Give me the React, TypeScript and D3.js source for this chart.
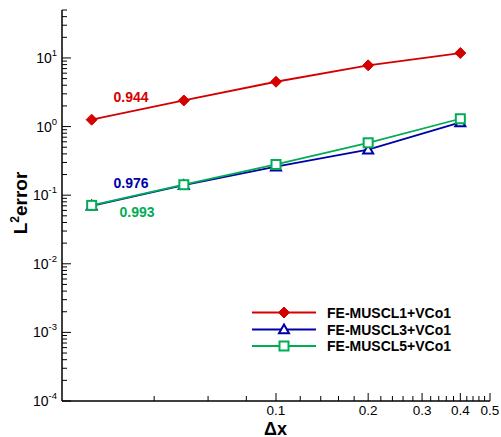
import React from "react";
import * as d3 from "d3";

const dx = [0.025, 0.05, 0.1, 0.2, 0.4];
const errMuscl1 = [1.26, 2.4, 4.5, 7.8, 11.8];
const errMuscl3 = [0.07, 0.14, 0.26, 0.46, 1.15];
const errMuscl5 = [0.071, 0.142, 0.28, 0.58, 1.3];
const seriesNames = ["FE-MUSCL1+VCo1", "FE-MUSCL3+VCo1", "FE-MUSCL5+VCo1"];
const rateLabels = ["0.944", "0.976", "0.993"];
const xTickLabels = [0.1, 0.2, 0.3, 0.4, 0.5];
const yExponents = [-4, -3, -2, -1, 0, 1];

const RED = "#d40000";
const BLUE = "#0000a8";
const GREEN = "#00ad55";
const FONT = "'Liberation Sans', Arial, Helvetica, sans-serif";

export default function App() {
  const x = d3.scaleLog().domain([0.02, 0.5]).range([62, 490]);
  const y = d3.scaleLog().domain([1e-4, 50]).range([401, 10]);
  const line = d3
    .line<[number, number]>()
    .x((d) => x(d[0]))
    .y((d) => y(d[1]));

  const xMinor: number[] = [];
  for (let i = 2; i <= 25; i++) {
    const v = +(i * 0.02).toFixed(2);
    if (!xTickLabels.some((t) => Math.abs(t - v) < 1e-9)) xMinor.push(v);
  }
  const yMinor: number[] = [];
  yExponents.forEach((e) => {
    for (let k = 2; k <= 9; k++) {
      const v = k * Math.pow(10, e);
      if (v <= 50) yMinor.push(v);
    }
  });

  const series = [
    { name: seriesNames[0], data: errMuscl1, color: RED, marker: "diamond" },
    { name: seriesNames[1], data: errMuscl3, color: BLUE, marker: "triangle" },
    { name: seriesNames[2], data: errMuscl5, color: GREEN, marker: "square" },
  ];

  const marker = (type: string, cx: number, cy: number, color: string, key: string) => {
    if (type === "diamond") {
      const r = 5.5;
      return (
        <path
          key={key}
          d={`M${cx},${cy - r}L${cx + r},${cy}L${cx},${cy + r}L${cx - r},${cy}Z`}
          fill={color}
          stroke={color}
          strokeWidth={1}
        />
      );
    }
    if (type === "triangle") {
      const r = 5;
      return (
        <path
          key={key}
          d={`M${cx},${cy - r}L${cx + r},${cy + r * 0.75}L${cx - r},${cy + r * 0.75}Z`}
          fill="white"
          stroke={color}
          strokeWidth={2}
        />
      );
    }
    const s = 4.5;
    return (
      <rect
        key={key}
        x={cx - s}
        y={cy - s}
        width={2 * s}
        height={2 * s}
        fill="white"
        stroke={color}
        strokeWidth={2}
      />
    );
  };

  const legendRows = [312.5, 329.5, 346];

  return (
    <svg
      width={501}
      height={437}
      style={{ position: "absolute", left: 0, top: 0, background: "white" }}
      fontFamily={FONT}
    >
      <rect x={0} y={0} width={501} height={437} fill="white" />
      {/* axes */}
      <line x1={62} y1={401} x2={490} y2={401} stroke="black" strokeWidth={1.5} />
      <line x1={62} y1={10} x2={62} y2={401} stroke="black" strokeWidth={1.5} />
      {/* x ticks */}
      {xTickLabels.map((t) => (
        <g key={"xt" + t}>
          <line x1={x(t)} x2={x(t)} y1={401} y2={393} stroke="black" strokeWidth={1} />
          <text x={x(t)} y={415} fontSize={13.5} textAnchor="middle" fill="black">
            {t}
          </text>
        </g>
      ))}
      {xMinor.map((t) => (
        <line key={"xm" + t} x1={x(t)} x2={x(t)} y1={401} y2={396} stroke="black" strokeWidth={1} />
      ))}
      {/* y ticks */}
      {yExponents.map((e) => {
        const v = Math.pow(10, e);
        return (
          <g key={"yt" + e}>
            <line x1={62} x2={71} y1={y(v)} y2={y(v)} stroke="black" strokeWidth={1} />
            <text x={57} y={y(v) + 5} fontSize={14} textAnchor="end" fill="black">
              10
              <tspan fontSize={9.5} dy={-7}>
                {e}
              </tspan>
            </text>
          </g>
        );
      })}
      {yMinor.map((v, i) => (
        <line key={"ym" + i} x1={62} x2={67} y1={y(v)} y2={y(v)} stroke="black" strokeWidth={1} />
      ))}
      {/* axis titles */}
      <text x={275.5} y={434.5} fontSize={18} fontWeight="bold" textAnchor="middle" fill="black">
        Δx
      </text>
      <text
        transform={`translate(26.5,203) rotate(-90)`}
        fontSize={19}
        fontWeight="bold"
        textAnchor="middle"
        fill="black"
      >
        L
        <tspan fontSize={12} dy={-8}>
          2
        </tspan>
        <tspan dy={8}>error</tspan>
      </text>
      {/* series */}
      {series.map((s, si) => {
        const pts = dx.map((d, i) => [d, s.data[i]] as [number, number]);
        return (
          <g key={"s" + si}>
            <path d={line(pts) || ""} fill="none" stroke={s.color} strokeWidth={1.8} />
            {pts.map((p, i) => marker(s.marker, x(p[0]), y(p[1]), s.color, `m${si}-${i}`))}
          </g>
        );
      })}
      {/* rate labels */}
      <text x={131} y={101.5} fontSize={14} fontWeight="bold" fill={RED} textAnchor="middle">
        {rateLabels[0]}
      </text>
      <text x={131} y={188} fontSize={14} fontWeight="bold" fill={BLUE} textAnchor="middle">
        {rateLabels[1]}
      </text>
      <text x={137} y={217} fontSize={14} fontWeight="bold" fill={GREEN} textAnchor="middle">
        {rateLabels[2]}
      </text>
      {/* legend */}
      {series.map((s, i) => (
        <g key={"lg" + i}>
          <line x1={252} x2={316} y1={legendRows[i]} y2={legendRows[i]} stroke={s.color} strokeWidth={1.8} />
          {marker(s.marker, 284, legendRows[i], s.color, "lm" + i)}
          <text x={327} y={legendRows[i] + 5} fontSize={14} fontWeight="bold" fill="black">
            {s.name}
          </text>
        </g>
      ))}
    </svg>
  );
}
